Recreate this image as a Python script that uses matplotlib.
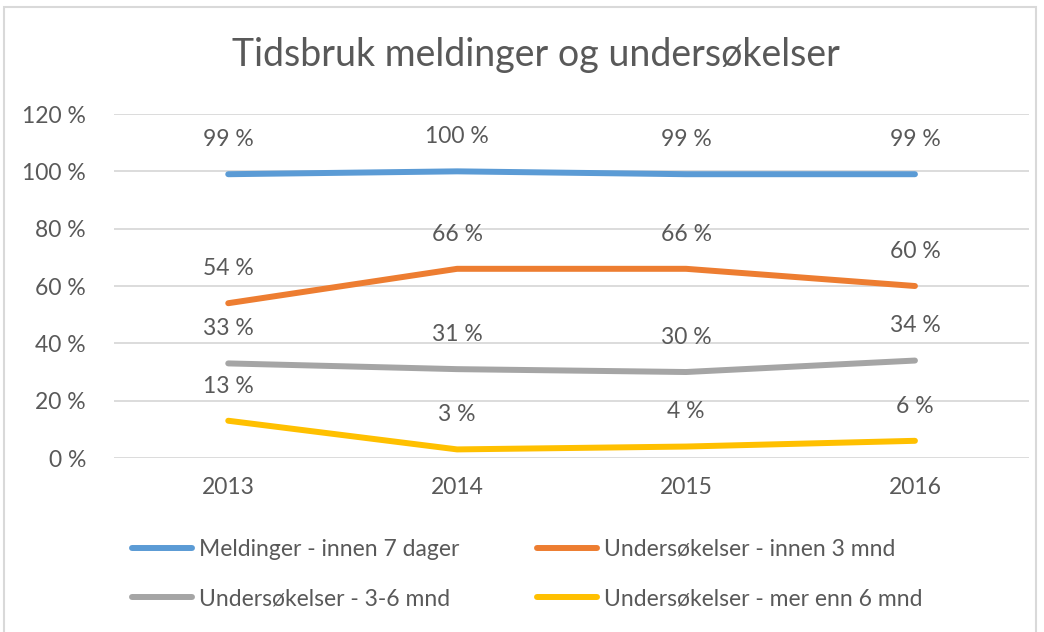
import matplotlib.pyplot as plt
from matplotlib.patches import Rectangle

years = ["2013", "2014", "2015", "2016"]
meldinger_7d = [99, 100, 99, 99]
unders_3mnd = [54, 66, 66, 60]
unders_3_6mnd = [33, 31, 30, 34]
unders_over_6mnd = [13, 3, 4, 6]

series = [
    ("Meldinger - innen 7 dager", meldinger_7d, "#5B9BD5"),
    ("Undersøkelser - innen 3 mnd", unders_3mnd, "#ED7D31"),
    ("Undersøkelser - 3-6 mnd", unders_3_6mnd, "#A5A5A5"),
    ("Undersøkelser - mer enn 6 mnd", unders_over_6mnd, "#FFC000"),
]

plt.rcParams['font.family'] = ['Lato', 'DejaVu Sans']
txt = "#595959"
fs = 16.5

fig = plt.figure(figsize=(10.44, 6.32), dpi=100)
fig.patches.append(Rectangle((4 / 1044, -0.01), 1032 / 1044, 1 - 7 / 632 + 0.01,
                             transform=fig.transFigure, fill=False,
                             edgecolor="#D9D9D9", linewidth=1.5))
ax = fig.add_axes([0.109, 0.2753, 0.877, 0.5443])

x = range(len(years))
lines = []
for name, vals, col in series:
    ln, = ax.plot(x, vals, color=col, linewidth=4.3, solid_capstyle='round', label=name)
    lines.append(ln)
    for xi, v in zip(x, vals):
        ax.annotate(f"{v} %", (xi, v), xytext=(0, 25), textcoords='offset points',
                    ha='center', va='center', fontsize=fs, color=txt)

ax.set_xlim(-0.5, 3.5)
ax.set_ylim(0, 120)
ax.set_yticks(range(0, 121, 20))
ax.set_yticklabels([f"{t} %" for t in range(0, 121, 20)])
ax.set_xticks(list(x))
ax.set_xticklabels(years)
ax.tick_params(length=0, labelsize=fs, colors=txt)
ax.tick_params(axis='y', pad=20)
ax.tick_params(axis='x', pad=14)
ax.grid(axis='y', color="#D9D9D9", linewidth=1.3)
ax.set_axisbelow(True)
for s in ax.spines.values():
    s.set_visible(False)

fig.text(0.513, 0.913, "Tidsbruk meldinger og undersøkelser", ha='center', va='center',
         fontsize=27, color=txt)

# legend filled row by row like the original
order = [0, 2, 1, 3]
fig.legend([lines[i] for i in order], [series[i][0] for i in order],
           loc='center left', bbox_to_anchor=(0.107, 0.092), ncol=2, frameon=False,
           fontsize=fs, labelcolor=txt, handlelength=2.6, handletextpad=0.3,
           columnspacing=3.4, labelspacing=1.25)

fig.savefig("out.png", dpi=100)
